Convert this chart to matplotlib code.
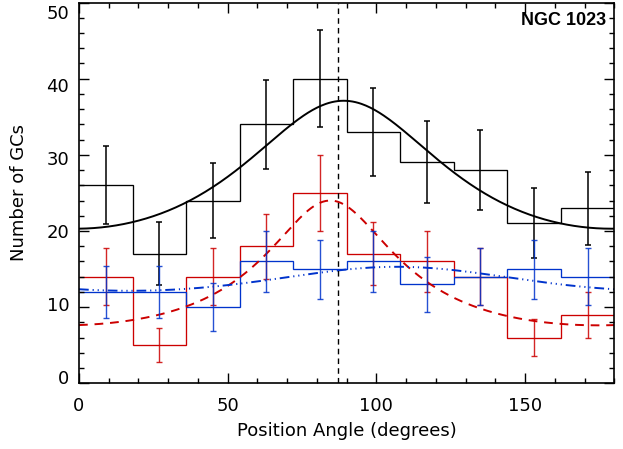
import numpy as np
import matplotlib
matplotlib.use("Agg")
import matplotlib.pyplot as plt
import matplotlib.transforms as mtransforms
from matplotlib.ticker import MultipleLocator

plt.rcParams['font.family'] = ['DejaVu Sans']

# histogram of GC position angles, 18 degree bins
bin_edges = [0, 18, 36, 54, 72, 90, 108, 126, 144, 162, 180]
n_all = [26, 17, 24, 34, 40, 33, 29, 28, 21, 23]
n_red = [14, 5, 14, 18, 25, 17, 16, 14, 6, 9]
n_blue = [12, 12, 10, 16, 15, 16, 13, 14, 15, 14]

# fitted azimuthal profiles: (PA, amplitude, axis ratio q, slope alpha)
fit_all = (89.0, 37.1, 0.605, 1.2)
fit_red = (84.5, 24.0, 0.384, 1.2)
fit_blue = (107.0, 15.3, 0.825, 1.2)

galaxy_pa = 87.0
galaxy_name = "NGC 1023"


def profile(theta, pa, k, q, alpha):
    d = np.radians(theta - pa)
    return k * (np.cos(d)**2 + np.sin(d)**2 / q**2) ** (-alpha / 2.0)


edges = np.array(bin_edges)
centers = 0.5 * (edges[:-1] + edges[1:])
theta = np.linspace(0, 180, 361)

col_red = '#cc0000'
col_blue = '#0033cc'
step_lw = 0.95

fig = plt.figure(figsize=(6.23, 4.49), dpi=100)
ax = fig.add_axes([79 / 623, 1 - 383.3 / 449, 535.3 / 623, 380.8 / 449])

# black: all GCs
ax.stairs(n_all, edges, baseline=None, color='black', lw=step_lw)
ax.errorbar(centers, n_all, yerr=np.sqrt(n_all), fmt='none', ecolor='black',
            elinewidth=1.1, capsize=2, capthick=1.1)
ax.plot(theta, profile(theta, *fit_all), color='black', lw=1.4)

# red GCs
ax.stairs(n_red, edges, baseline=None, color=col_red, lw=step_lw)
ax.errorbar(centers, n_red, yerr=np.sqrt(n_red), fmt='none', ecolor=col_red,
            elinewidth=1.0, capsize=2, capthick=1.0, alpha=0.85)
ax.plot(theta, profile(theta, *fit_red), color=col_red, lw=1.4,
        dashes=(4.5, 3.5))

# blue GCs
ax.stairs(n_blue, edges, baseline=None, color=col_blue, lw=step_lw)
ax.errorbar(centers, n_blue, yerr=np.sqrt(n_blue), fmt='none', ecolor=col_blue,
            elinewidth=1.0, capsize=2, capthick=1.0, alpha=0.85)
ax.plot(theta, profile(theta, *fit_blue), color=col_blue, lw=1.4,
        dashes=(5, 2, 0.6, 2, 0.6, 2, 0.6, 2))

ax.axvline(galaxy_pa, color='black', lw=1.0, dashes=(4, 3))

ax.set_xlim(0, 180)
ax.set_ylim(0, 50)
ax.xaxis.set_major_locator(MultipleLocator(50))
ax.xaxis.set_minor_locator(MultipleLocator(10))
ax.yaxis.set_major_locator(MultipleLocator(10))
ax.yaxis.set_minor_locator(MultipleLocator(2))
ax.tick_params(which='both', direction='in', top=True, right=True,
               width=1.0, labelsize=13, colors='black')
ax.tick_params(which='major', length=7)
ax.tick_params(axis='x', which='major', pad=10)
ax.tick_params(axis='y', which='major', pad=7)
ax.tick_params(which='minor', length=3.5)
for s in ax.spines.values():
    s.set_linewidth(1.2)

# y tick labels sit on a slightly compressed scale, as in the original
fig.canvas.draw()
for val, lab in zip(ax.get_yticks(), ax.get_yticklabels()):
    shift = (-6 + 15.5 * val / 50) / 100.0
    lab.set_transform(lab.get_transform() +
                      mtransforms.ScaledTranslation(0, -shift, fig.dpi_scale_trans))

ax.set_xlabel('Position Angle (degrees)', fontsize=13, labelpad=5)
ax.set_ylabel('Number of GCs', fontsize=13, labelpad=13)
ax.text(0.985, 0.975, galaxy_name, transform=ax.transAxes, ha='right', va='top',
        fontsize=13, fontweight='bold', family='Liberation Sans')

fig.savefig('out.png', dpi=100)
